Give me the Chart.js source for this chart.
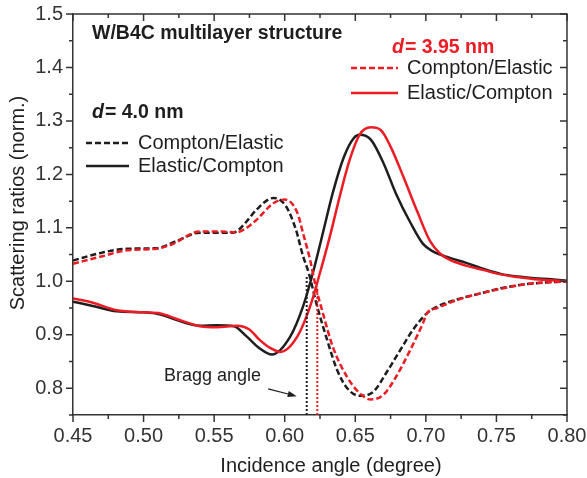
<!DOCTYPE html>
<html>
<head>
<meta charset="utf-8">
<script src="https://cdn.jsdelivr.net/npm/chart.js@4.4.1/dist/chart.umd.min.js"></script>
<style>
    html, body { margin: 0; padding: 0; background: #ffffff; }
    #wrap { width: 587px; height: 478px; position: relative; }
</style>
</head>
<body>
<div id="wrap"><canvas id="chart"></canvas></div>
<script>
// d = 4.0 nm (black)
const elasticAngles40 = [0.45, 0.464, 0.481, 0.50, 0.512, 0.523, 0.54, 0.552, 0.564, 0.573, 0.582, 0.591, 0.604, 0.613, 0.620, 0.627, 0.634, 0.642, 0.649, 0.653, 0.661, 0.670, 0.679, 0.689, 0.698, 0.705, 0.717, 0.729, 0.741, 0.753, 0.765, 0.777, 0.789, 0.80];
const elasticRatio40 = [0.962, 0.954, 0.944, 0.942, 0.938, 0.928, 0.917, 0.918, 0.916, 0.897, 0.875, 0.863, 0.897, 0.953, 1.016, 1.090, 1.165, 1.233, 1.268, 1.274, 1.265, 1.221, 1.163, 1.110, 1.070, 1.056, 1.044, 1.034, 1.023, 1.014, 1.009, 1.006, 1.004, 1.001];
const comptonAngles40 = [0.45, 0.471, 0.488, 0.509, 0.523, 0.54, 0.554, 0.5635, 0.568, 0.573, 0.58, 0.592, 0.601, 0.608, 0.613, 0.617, 0.623, 0.630, 0.637, 0.644, 0.653, 0.663, 0.672, 0.682, 0.691, 0.701, 0.706, 0.722, 0.738, 0.753, 0.769, 0.785, 0.80];
const comptonRatio40 = [1.039, 1.054, 1.061, 1.062, 1.075, 1.091, 1.091, 1.091, 1.098, 1.112, 1.134, 1.156, 1.140, 1.096, 1.047, 1.016, 0.953, 0.891, 0.835, 0.801, 0.786, 0.794, 0.829, 0.872, 0.910, 0.941, 0.950, 0.966, 0.977, 0.987, 0.994, 0.998, 1.0];

// d = 3.95 nm (red)
const elasticAngles395 = [0.45, 0.464, 0.481, 0.50, 0.512, 0.523, 0.54, 0.552, 0.566, 0.575, 0.582, 0.590, 0.597, 0.609, 0.618, 0.625, 0.632, 0.639, 0.646, 0.653, 0.661, 0.668, 0.675, 0.684, 0.694, 0.703, 0.71, 0.717, 0.729, 0.741, 0.753, 0.765, 0.777, 0.789, 0.80];
const elasticRatio395 = [0.968, 0.960, 0.946, 0.942, 0.940, 0.930, 0.916, 0.914, 0.917, 0.910, 0.891, 0.875, 0.868, 0.897, 0.953, 1.016, 1.084, 1.159, 1.227, 1.274, 1.288, 1.283, 1.252, 1.196, 1.130, 1.075, 1.052, 1.040, 1.029, 1.021, 1.013, 1.008, 1.004, 1.002, 1.0];
const comptonAngles395 = [0.45, 0.471, 0.488, 0.509, 0.519, 0.54, 0.554, 0.566, 0.573, 0.58, 0.592, 0.60, 0.609, 0.613, 0.618, 0.622, 0.627, 0.634, 0.644, 0.653, 0.661, 0.67, 0.679, 0.689, 0.698, 0.701, 0.708, 0.722, 0.738, 0.753, 0.769, 0.785, 0.80];
const comptonRatio395 = [1.033, 1.047, 1.058, 1.061, 1.068, 1.093, 1.093, 1.092, 1.100, 1.115, 1.146, 1.153, 1.128, 1.090, 1.040, 0.990, 0.941, 0.878, 0.822, 0.791, 0.779, 0.788, 0.822, 0.872, 0.922, 0.941, 0.950, 0.965, 0.977, 0.986, 0.994, 0.998, 1.0];

// Bragg angle markers: [d=4.0, d=3.95]
const braggAngles = [0.6156, 0.6231];
const braggTops = [1.012, 0.990];

const BLACK = "#1e1e1e";
const RED = "#ec1c24";
const AXIS = "#333333";
const FONT = "'Liberation Sans', Arial, sans-serif";

const pts = (xs, ys) => xs.map((x, i) => ({ x, y: ys[i] }));

function curve(xs, ys, color, dash) {
    return {
        data: pts(xs, ys),
        borderColor: color,
        borderWidth: 2.5,
        borderDash: dash,
        pointRadius: 0,
        fill: false,
        cubicInterpolationMode: "monotone",
    };
}

function braggLine(i, color) {
    return {
        data: [{ x: braggAngles[i], y: 0.75 }, { x: braggAngles[i], y: braggTops[i] }],
        borderColor: color,
        borderWidth: 2,
        borderDash: [2, 2],
        pointRadius: 0,
        fill: false,
    };
}

// keep the plot box where the reference has it
function noScalePadding(s) {
    s.paddingLeft = 0;
    s.paddingRight = 0;
    s.paddingTop = 0;
    s.paddingBottom = 0;
}

const decorations = {
    id: "decorations",
    afterDraw(chart) {
        const { ctx, chartArea: a, scales } = chart;
        const x = scales.x;
        const y = scales.y;
        ctx.save();

        // top/right frame
        ctx.strokeStyle = AXIS;
        ctx.lineWidth = 1.5;
        ctx.beginPath();
        ctx.moveTo(a.left, a.top);
        ctx.lineTo(a.right, a.top);
        ctx.lineTo(a.right, a.bottom);
        ctx.stroke();

        // ticks: out on bottom/left, in on top/right
        ctx.beginPath();
        for (let i = 0; i <= 14; i++) {
            const px = x.getPixelForValue(0.45 + i * 0.025);
            const len = i % 2 === 0 ? 7 : 4;
            ctx.moveTo(px, a.bottom);
            ctx.lineTo(px, a.bottom + len);
            ctx.moveTo(px, a.top);
            ctx.lineTo(px, a.top + len);
        }
        for (let i = 0; i <= 15; i++) {
            const py = y.getPixelForValue(0.75 + i * 0.05);
            const len = i % 2 === 1 ? 7 : 4;
            ctx.moveTo(a.left - len, py);
            ctx.lineTo(a.left, py);
            ctx.moveTo(a.right - len, py);
            ctx.lineTo(a.right, py);
        }
        ctx.stroke();

        // axis titles
        ctx.fillStyle = BLACK;
        ctx.font = "20px " + FONT;
        ctx.textAlign = "center";
        ctx.textBaseline = "middle";
        ctx.fillText("Incidence angle (degree)", 331, 466);
        ctx.save();
        ctx.translate(18, 203);
        ctx.rotate(-Math.PI / 2);
        ctx.fillText("Scattering ratios (norm.)", 0, 0);
        ctx.restore();

        // header + legends
        ctx.textAlign = "left";
        ctx.font = "bold 19.5px " + FONT;
        ctx.fillText("W/B4C multilayer structure", 92, 34);

        const dLabel = (x0, yy, rest, color) => {
            ctx.fillStyle = color;
            ctx.font = "italic bold 19.5px " + FONT;
            ctx.fillText("d", x0, yy);
            const w = ctx.measureText("d").width;
            ctx.font = "bold 19.5px " + FONT;
            ctx.fillText(rest, x0 + w + 1, yy);
        };
        dLabel(92, 113, "= 4.0 nm", BLACK);
        dLabel(392, 48, "= 3.95 nm", RED);

        const legendRow = (x0, x1, yy, color, dash, text) => {
            ctx.strokeStyle = color;
            ctx.lineWidth = 2.5;
            ctx.setLineDash(dash);
            ctx.beginPath();
            ctx.moveTo(x0, yy);
            ctx.lineTo(x1, yy);
            ctx.stroke();
            ctx.setLineDash([]);
            ctx.fillStyle = BLACK;
            ctx.font = "20px " + FONT;
            ctx.fillText(text, x1 + 9, yy);
        };
        legendRow(86, 129, 143, BLACK, [6, 3], "Compton/Elastic");
        legendRow(86, 129, 166, BLACK, [], "Elastic/Compton");
        legendRow(351, 398, 68, RED, [6, 3], "Compton/Elastic");
        legendRow(351, 398, 93, RED, [], "Elastic/Compton");

        // Bragg angle note + arrow
        ctx.fillStyle = BLACK;
        ctx.font = "18px " + FONT;
        ctx.fillText("Bragg angle", 164, 376);
        const ax0 = x.getPixelForValue(0.5883), ay0 = y.getPixelForValue(0.799);
        const ax1 = x.getPixelForValue(0.6085), ay1 = y.getPixelForValue(0.785);
        const ang = Math.atan2(ay1 - ay0, ax1 - ax0);
        ctx.strokeStyle = BLACK;
        ctx.lineWidth = 1.2;
        ctx.beginPath();
        ctx.moveTo(ax0, ay0);
        ctx.lineTo(ax1 - 6 * Math.cos(ang), ay1 - 6 * Math.sin(ang));
        ctx.stroke();
        ctx.beginPath();
        ctx.moveTo(ax1, ay1);
        ctx.lineTo(ax1 - 9 * Math.cos(ang) + 3 * Math.sin(ang), ay1 - 9 * Math.sin(ang) - 3 * Math.cos(ang));
        ctx.lineTo(ax1 - 9 * Math.cos(ang) - 3 * Math.sin(ang), ay1 - 9 * Math.sin(ang) + 3 * Math.cos(ang));
        ctx.closePath();
        ctx.fill();

        ctx.restore();
    },
};

new Chart(document.getElementById("chart"), {
    type: "line",
    data: {
        datasets: [
            braggLine(1, RED),
            braggLine(0, BLACK),
            curve(comptonAngles395, comptonRatio395, RED, [6, 3]),
            curve(elasticAngles395, elasticRatio395, RED, []),
            curve(comptonAngles40, comptonRatio40, BLACK, [6, 3]),
            curve(elasticAngles40, elasticRatio40, BLACK, []),
        ],
    },
    options: {
        responsive: true,
        maintainAspectRatio: false,
        animation: false,
        layout: { padding: { top: 14, right: 20, left: 0, bottom: 0 } },
        plugins: {
            legend: { display: false },
            tooltip: { enabled: false },
        },
        scales: {
            x: {
                type: "linear",
                min: 0.45,
                max: 0.80,
                afterFit: (s) => { s.height = 63; noScalePadding(s); },
                ticks: {
                    stepSize: 0.05,
                    padding: 9,
                    color: AXIS,
                    font: { family: FONT, size: 20 },
                    callback: (v) => v.toFixed(2),
                },
                grid: { display: false, drawTicks: false },
                border: { color: AXIS, width: 1.5 },
            },
            y: {
                type: "linear",
                min: 0.75,
                max: 1.5,
                afterFit: (s) => { s.width = 73; noScalePadding(s); },
                ticks: {
                    stepSize: 0.1,
                    padding: 10,
                    color: AXIS,
                    font: { family: FONT, size: 20 },
                    callback: (v) => Math.abs(v * 10 - Math.round(v * 10)) < 1e-6 ? v.toFixed(1) : "",
                },
                grid: { display: false, drawTicks: false },
                border: { color: AXIS, width: 1.5 },
            },
        },
    },
    plugins: [decorations],
});
</script>
</body>
</html>
